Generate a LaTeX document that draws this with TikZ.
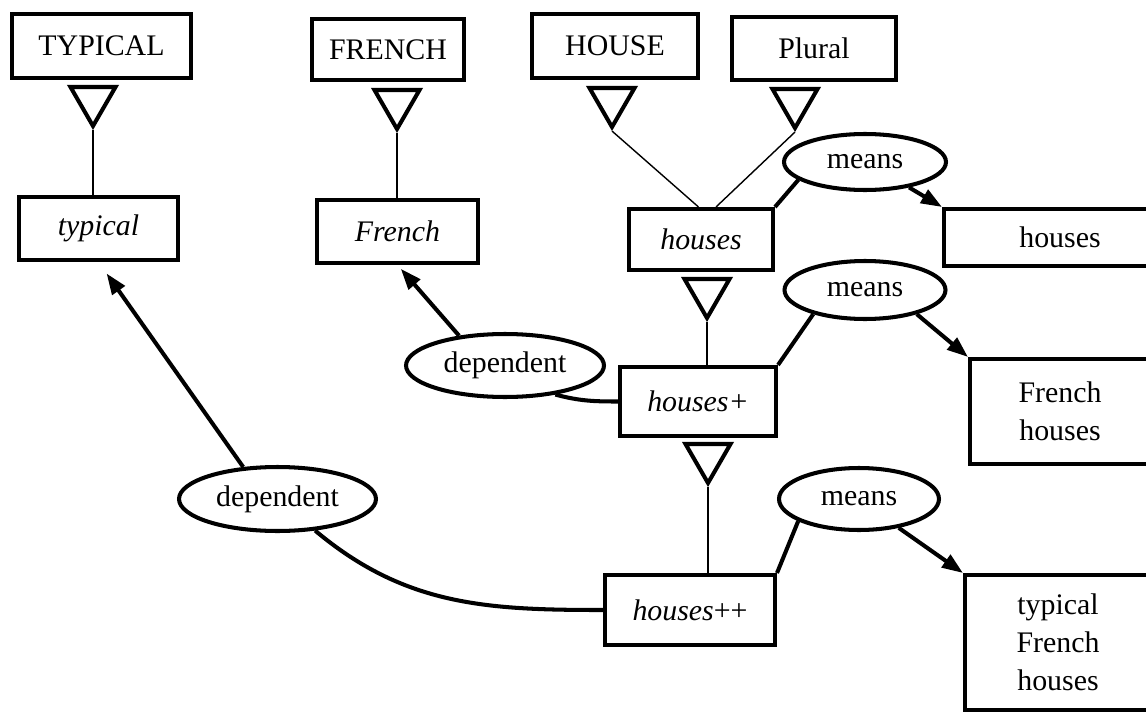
\documentclass[tikz,border=0pt]{standalone}
\usepackage{fontspec}
\setmainfont{Liberation Serif}
\usetikzlibrary{arrows.meta,shapes.geometric}

\begin{document}
\begin{tikzpicture}[x=0.02cm,y=-0.02cm,font=\fontsize{17}{21.6}\selectfont]
   \useasboundingbox (0,0) rectangle (1146,723);
   \clip (0,0) rectangle (1146,723);
   \tikzstyle{unit}=[draw=black, line width=2.3pt, align=center, inner sep=0pt]
   \tikzstyle{rel}=[ellipse, draw=black, line width=2.3pt, inner sep=0pt]
   \tikzstyle{isa}=[regular polygon, regular polygon sides=3, shape border rotate=180, draw=black, line width=2.3pt, inner sep=0pt, minimum size=1.04cm]
   \tikzstyle{thinlink}=[line width=0.8pt]
   \tikzstyle{link}=[line width=2.3pt]
   \tikzstyle{arr}=[line width=2.3pt, -{Triangle[length=0.42cm,width=0.3cm]}]
   % lexemes at the top
   \node[unit, minimum width=3.58cm, minimum height=1.28cm] (TYP) at (101.5,46) {TYPICAL};
   \node[unit, minimum width=3.04cm, minimum height=1.22cm] (FRE) at (388,49.5) {FRENCH};
   \node[unit, minimum width=3.32cm, minimum height=1.28cm] (HOU) at (615,46) {HOUSE};
   \node[unit, minimum width=3.28cm, minimum height=1.26cm] (PLU) at (814,48.5) {Plural};
   % word tokens
   \node[unit, minimum width=3.18cm, minimum height=1.26cm] (ty) at (98.5,228.5) {\itshape typical};
   \node[unit, minimum width=3.22cm, minimum height=1.26cm] (fr) at (397.5,231.5) {\itshape French};
   \node[unit, minimum width=2.88cm, minimum height=1.22cm] (hs) at (701,239.5) {\itshape houses};
   \node[unit, minimum width=3.12cm, minimum height=1.38cm] (hp) at (698,401.5) {\itshape houses+};
   \node[unit, minimum width=3.4cm, minimum height=1.4cm] (hpp) at (690,610) {\itshape houses\upshape++};
   % meanings
   \node[unit, minimum width=4.64cm, minimum height=1.14cm] (mh) at (1060,237.5) {houses};
   \node[unit, minimum width=3.6cm, minimum height=2.1cm] (mfh) at (1060,411.5) {French\\houses};
   \node[unit, minimum width=3.72cm, minimum height=2.7cm] (mtfh) at (1058,642.5) {typical\\French\\houses};
   % relations
   \node[rel, minimum width=3.24cm, minimum height=1.12cm] (m1) at (865,162) {means};
   \node[rel, minimum width=3.22cm, minimum height=1.16cm] (m2) at (865,290) {means};
   \node[rel, minimum width=3.2cm, minimum height=1.24cm] (m3) at (859,499) {means};
   \node[rel, minimum width=3.96cm, minimum height=1.26cm] (d1) at (505,365.5) {dependent};
   \node[rel, minimum width=3.94cm, minimum height=1.28cm] (d2) at (277.5,499) {dependent};
   % isa triangles
   \foreach \t/\x/\y in {t1/93/100, t2/397/103, t3/612/101, t4/795/102, t5/707/292, t6/708/457}
       \node[isa] (\t) at (\x,\y) {};
   \path[thinlink] (t1.corner 1) edge (t1.corner 1 |- ty.north)
                   (t2.corner 1) edge (t2.corner 1 |- fr.north)
                   (t3.corner 1) edge ([xshift=-0.05cm]hs.north)
                   (t4.corner 1) edge ([xshift=0.3cm]hs.north)
                   (t5.corner 1) edge (t5.corner 1 |- hp.north)
                   (t6.corner 1) edge (t6.corner 1 |- hpp.north);
   \path[link] (hs.north east) edge (m1.195)
               (hp.north east) edge (m2.205)
               (hpp.north east) edge (m3.200)
               (d1.330) edge[out=-15, in=180] (hp.west)
               (d2.320) edge[out=-40, in=180] (hpp.west);
   \path[arr] (m1.330) edge (mh.north west)
              (m2.335) edge (mfh.north west)
              (m3.324) edge (mtfh.north west)
              (d1.147) edge[shorten >=0.1cm] (fr.south)
              (d2.137) edge[shorten >=0.28cm] (ty.south);
\end{tikzpicture}
\end{document}
